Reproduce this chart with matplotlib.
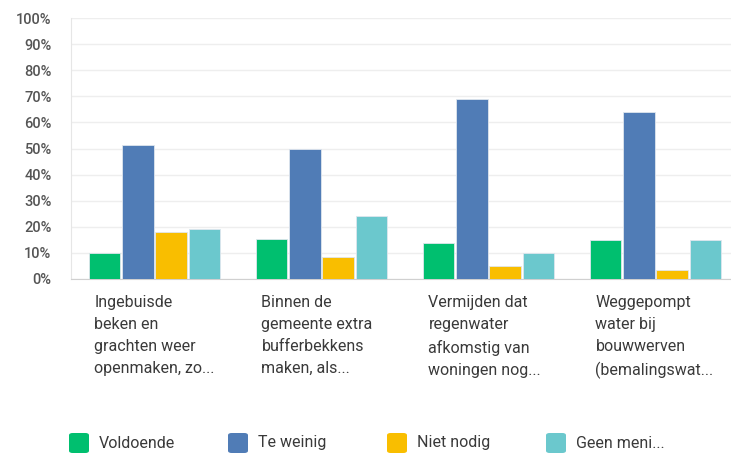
import matplotlib.pyplot as plt
import numpy as np
from matplotlib.patches import FancyBboxPatch

plt.rcParams['font.family'] = ['Roboto', 'DejaVu Sans']

categories = [
    "Ingebuisde\nbeken en\ngrachten weer\nopenmaken, zo...",
    "Binnen de\ngemeente extra\nbufferbekkens\nmaken, als...",
    "Vermijden dat\nregenwater\nafkomstig van\nwoningen nog...",
    "Weggepompt\nwater bij\nbouwwerven\n(bemalingswat...",
]
series = ["Voldoende", "Te weinig", "Niet nodig", "Geen meni..."]
voldoende = [9.9, 15.2, 13.7, 15.1]
te_weinig = [51.5, 49.9, 69.1, 63.9]
niet_nodig = [18.0, 8.3, 4.8, 3.3]
geen_mening = [19.1, 24.1, 9.9, 15.1]
yticks = [0, 10, 20, 30, 40, 50, 60, 70, 80, 90, 100]

colors = ["#00BF6F", "#507CB6", "#F9BE00", "#6BC8CD"]
values = [voldoende, te_weinig, niet_nodig, geen_mening]

fig = plt.figure(figsize=(7.31, 4.54), dpi=100)
ax = fig.add_axes([71 / 731, 175 / 454, 668 / 731, 261 / 454])

x = np.arange(len(categories))
w = 0.19
for k, (vals, c) in enumerate(zip(values, colors)):
    ax.bar(x + (k - 1.5) * 0.2, vals, width=w, color=c,
           edgecolor="#dfe6ee", linewidth=0.6, zorder=3)

ax.set_xlim(-0.5, 3.5)
ax.set_ylim(0, 100)
ax.set_yticks(yticks)
ax.set_yticklabels([f"{t}%" for t in yticks], fontsize=10.5, color="#555555",
                   fontweight="medium")
ax.tick_params(axis="y", length=0, pad=14)
ax.tick_params(axis="x", length=0, labelbottom=False)
ax.grid(axis="y", color="#eeeeee", linewidth=1, zorder=0)
for s in ["top", "right"]:
    ax.spines[s].set_visible(False)
ax.spines["bottom"].set_color("#d0d0d0")
ax.spines["left"].set_color("#e6e6e6")

for i, lab in enumerate(categories):
    ax.text(i - 0.36, -0.062, lab, transform=ax.get_xaxis_transform(),
            ha="left", va="top", fontsize=11.5, color="#3a3a3a", linespacing=1.58)

# legend
lx = [69, 228, 387, 546]
for px, name, c in zip(lx, series, colors):
    fig.patches.append(FancyBboxPatch((px / 731, 1 / 454), 20 / 731, 20 / 454,
                                      boxstyle="round,pad=0,rounding_size=0.005",
                                      transform=fig.transFigure, facecolor=c,
                                      edgecolor="none"))
    fig.text((px + 30) / 731, (454 - 443) / 454, name, ha="left", va="center",
             fontsize=11.5, color="#3a3a3a")

fig.savefig("out.png", dpi=100)
